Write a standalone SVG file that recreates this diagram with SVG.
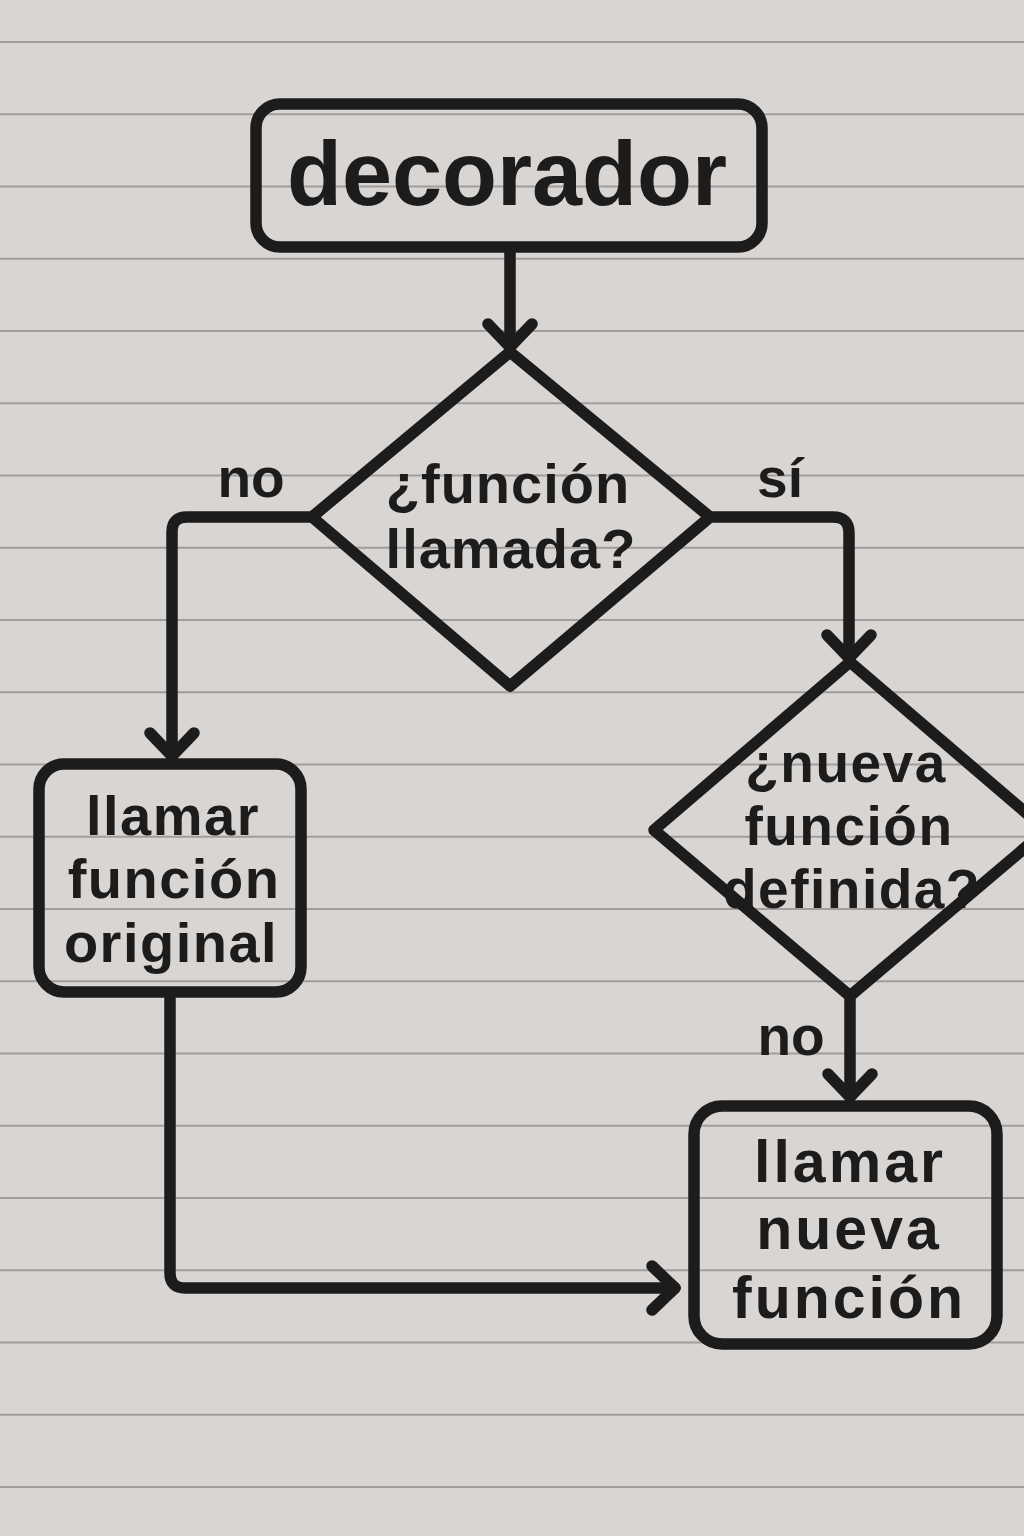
<svg xmlns="http://www.w3.org/2000/svg" width="1024" height="1536" viewBox="0 0 1024 1536">
<defs>
<style>
.paper{stroke:#a19d9c;stroke-width:2}
.shape{fill:none;stroke:#1c1c1c;stroke-width:11.5;stroke-linejoin:round;stroke-linecap:round}
.conn{fill:none;stroke:#1c1c1c;stroke-width:11.5;stroke-linejoin:round;stroke-linecap:round}
.t{font-family:"Liberation Sans",Arial,sans-serif;font-weight:700;fill:#1c1c1c;text-anchor:middle}
</style>
<marker id="arr" markerUnits="userSpaceOnUse" viewBox="-40 -40 60 80" markerWidth="60" markerHeight="80" refX="0" refY="0" orient="auto">
<path d="M-23,-22 L0,0 L-23,22" fill="none" stroke="#1c1c1c" stroke-width="11.5" stroke-linecap="round" stroke-linejoin="round"/>
</marker>
</defs>
<rect width="1024" height="1536" fill="#d9d5d2"/>
<g id="paper-lines">
<line class="paper" x1="0" y1="42" x2="1024" y2="42"/>
<line class="paper" x1="0" y1="114.25" x2="1024" y2="114.25"/>
<line class="paper" x1="0" y1="186.5" x2="1024" y2="186.5"/>
<line class="paper" x1="0" y1="258.75" x2="1024" y2="258.75"/>
<line class="paper" x1="0" y1="331" x2="1024" y2="331"/>
<line class="paper" x1="0" y1="403.25" x2="1024" y2="403.25"/>
<line class="paper" x1="0" y1="475.5" x2="1024" y2="475.5"/>
<line class="paper" x1="0" y1="547.75" x2="1024" y2="547.75"/>
<line class="paper" x1="0" y1="620" x2="1024" y2="620"/>
<line class="paper" x1="0" y1="692.25" x2="1024" y2="692.25"/>
<line class="paper" x1="0" y1="764.5" x2="1024" y2="764.5"/>
<line class="paper" x1="0" y1="836.75" x2="1024" y2="836.75"/>
<line class="paper" x1="0" y1="909" x2="1024" y2="909"/>
<line class="paper" x1="0" y1="981.25" x2="1024" y2="981.25"/>
<line class="paper" x1="0" y1="1053.5" x2="1024" y2="1053.5"/>
<line class="paper" x1="0" y1="1125.75" x2="1024" y2="1125.75"/>
<line class="paper" x1="0" y1="1198" x2="1024" y2="1198"/>
<line class="paper" x1="0" y1="1270.25" x2="1024" y2="1270.25"/>
<line class="paper" x1="0" y1="1342.5" x2="1024" y2="1342.5"/>
<line class="paper" x1="0" y1="1414.75" x2="1024" y2="1414.75"/>
<line class="paper" x1="0" y1="1487" x2="1024" y2="1487"/>
</g>
<g id="connectors">
<path class="conn" d="M510,250 V347" marker-end="url(#arr)"/>
<path class="conn" d="M312,517 H187 Q172,517 172,532 V756" marker-end="url(#arr)"/>
<path class="conn" d="M710,517 H833 Q849,517 849,533 V658" marker-end="url(#arr)"/>
<path class="conn" d="M170,998 V1273 Q170,1288 185,1288 H675" marker-end="url(#arr)"/>
<path class="conn" d="M850,996 V1097" marker-end="url(#arr)"/>
</g>
<g id="labels">
<text class="t" x="251" y="497" font-size="55">no</text>
<text class="t" x="780" y="497" font-size="55">sí</text>
<text class="t" x="791" y="1055" font-size="55">no</text>
</g>
<g id="node-decorador">
<rect class="shape" x="256" y="104" width="506" height="143" rx="24"/>
<text class="t" x="507" y="205" font-size="90">decorador</text>
</g>
<g id="node-funcion-llamada">
<path class="shape" d="M510,352 L710,517 L510,686 L312,517 Z"/>
<text class="t" font-size="56" letter-spacing="1"><tspan x="508" y="503">¿función</tspan><tspan x="511" y="568">llamada?</tspan></text>
</g>
<g id="node-llamar-original">
<rect class="shape" x="39" y="764" width="262" height="228" rx="25"/>
<text class="t" font-size="56" letter-spacing="1.5"><tspan x="173" y="835">llamar</tspan><tspan x="174" y="898">función</tspan><tspan x="171" y="962">original</tspan></text>
</g>
<g id="node-nueva-definida">
<path class="shape" d="M850,662 L1046,830 L850,996 L654,830 Z"/>
<text class="t" font-size="55" letter-spacing="1.5"><tspan x="846" y="782">¿nueva</tspan><tspan x="849" y="845">función</tspan><tspan x="852" y="908">definida?</tspan></text>
</g>
<g id="node-llamar-nueva">
<rect class="shape" x="694" y="1106" width="303" height="238" rx="28"/>
<text class="t" font-size="59" letter-spacing="3"><tspan x="850" y="1182">llamar</tspan><tspan x="849" y="1249">nueva</tspan><tspan x="849" y="1318">función</tspan></text>
</g>
</svg>
